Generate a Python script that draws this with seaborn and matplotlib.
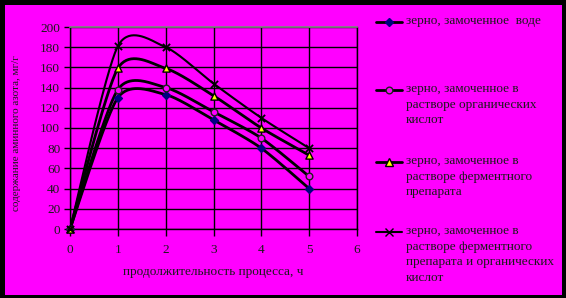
import numpy as np
import pandas as pd
import matplotlib
matplotlib.use("Agg")
import matplotlib.pyplot as plt
from matplotlib.lines import Line2D
from matplotlib.patches import Rectangle
import seaborn as sns

# ---- data ----
hours = [0, 1, 2, 3, 4, 5]
water = [0, 130, 133, 108, 80, 40]
acids = [0, 138, 140, 116, 90, 52]
enzyme = [0, 159, 159, 132, 100, 73]
enzyme_acids = [0, 181, 180, 144, 110, 80]
series_labels = [
    "зерно, замоченное  воде",
    "зерно, замоченное в\nрастворе органических\nкислот",
    "зерно, замоченное в\nрастворе ферментного\nпрепарата",
    "зерно, замоченное в\nрастворе ферментного\nпрепарата и органических\nкислот",
]
x_label = "продолжительность процесса, ч"
y_label = "содержание аминного азота, мг/г"
x_ticks = [0, 1, 2, 3, 4, 5, 6]
y_ticks = [0, 20, 40, 60, 80, 100, 120, 140, 160, 180, 200]

MAG = "#FF00FF"
TXT = "#1a1a1a"

def smooth_curve(xs, ys, n=40, div=8.0):
    """Excel-style smoothed line (Bezier through points)."""
    p = np.column_stack([xs, ys]).astype(float)
    out = []
    for i in range(len(p) - 1):
        p0 = p[i - 1] if i > 0 else p[i]
        p1, p2 = p[i], p[i + 1]
        p3 = p[i + 2] if i + 2 < len(p) else p[i + 1]
        c1 = p1 + (p2 - p0) / div
        c2 = p2 - (p3 - p1) / div
        t = np.linspace(0, 1, n, endpoint=(i == len(p) - 2))[:, None]
        b = ((1 - t) ** 3) * p1 + 3 * ((1 - t) ** 2) * t * c1 + 3 * (1 - t) * t ** 2 * c2 + t ** 3 * p2
        out.append(b)
    return np.vstack(out)

sns.set_theme(style="white")
plt.rcParams["font.family"] = ["Liberation Serif", "DejaVu Serif"]

W, H = 566, 298
fig = plt.figure(figsize=(W / 100, H / 100), dpi=100, facecolor="black")
bg = Rectangle((5 / W, 3 / H), (W - 9) / W, (H - 8) / H,
               transform=fig.transFigure, facecolor=MAG,
               edgecolor="none", zorder=-10)
fig.patches.append(bg)

ax = fig.add_axes([70 / W, 1 - 229 / H, (357 - 70) / W, (229 - 27) / H], zorder=5)
ax.set_facecolor(MAG)

styles = [
    dict(marker="D", ms=4.0, mfc="#000080", mec="#000080", lw=2.0),
    dict(marker="o", ms=4.8, mfc=MAG, mec="#202020", lw=2.0),
    dict(marker="^", ms=5.2, mfc="#FFFF00", mec="#000000", lw=2.0),
    dict(marker="x", ms=5.2, mfc="black", mec="black", lw=1.5),
]
all_series = [water, acids, enzyme, enzyme_acids]

for k, (vals, st) in enumerate(zip(all_series, styles)):
    curve = smooth_curve(hours, vals)
    df = pd.DataFrame({"x": curve[:, 0], "y": curve[:, 1]})
    sns.lineplot(data=df, x="x", y="y", ax=ax, color="black", lw=st["lw"],
                 sort=False, estimator=None, zorder=3)
    pts = pd.DataFrame({"x": hours, "y": vals})
    sns.scatterplot(data=pts, x="x", y="y", ax=ax, marker=st["marker"],
                    s=st["ms"] ** 2, color=st["mfc"], edgecolor=st["mec"],
                    linewidth=1.0 if st["marker"] != "x" else 1.3,
                    zorder=4, clip_on=False)

ax.set_xlim(0, 6)
ax.set_ylim(0, 200)
ax.set_xticks(x_ticks)
ax.set_yticks(y_ticks)
ax.grid(True, color="black", lw=1.0)
ax.set_axisbelow(True)
for s in ["left", "bottom", "right"]:
    ax.spines[s].set_color("black")
    ax.spines[s].set_linewidth(1.0)
ax.spines["top"].set_color("#808080")
ax.tick_params(axis="x", length=5, width=1, color="black", direction="out",
               labelsize=9.5, labelcolor=TXT, pad=6, bottom=True)
ax.tick_params(axis="y", length=4, width=1, color="black", direction="out",
               labelsize=9.5, labelcolor=TXT, pad=3, left=True)
ax.set_xlabel("")
ax.set_ylabel("")

fig.text(213 / W, 1 - 272 / H, x_label, ha="center", va="center",
         fontsize=9.5, color=TXT)
fig.text(17 / W, 1 - 133 / H, y_label, ha="center", va="center",
         rotation=90, fontsize=8, color=TXT)

# ---- legend (manual, aligned with first text line) ----
leg_y = [22, 90, 162, 232]
for lab, st, yy in zip(series_labels, styles, leg_y):
    yf = 1 - yy / H
    fig.add_artist(Line2D([376 / W, 402 / W], [yf, yf], color="black",
                          lw=st["lw"], transform=fig.transFigure))
    fig.add_artist(Line2D([389 / W], [yf], marker=st["marker"],
                          ms=st["ms"], mfc=st["mfc"], mec=st["mec"],
                          mew=1.0, lw=0, transform=fig.transFigure))
    fig.text(406 / W, yf + 7 / H, lab, ha="left", va="top", fontsize=9.5,
             color=TXT, linespacing=1.4)

fig.savefig("out.png", dpi=100, facecolor="black")
